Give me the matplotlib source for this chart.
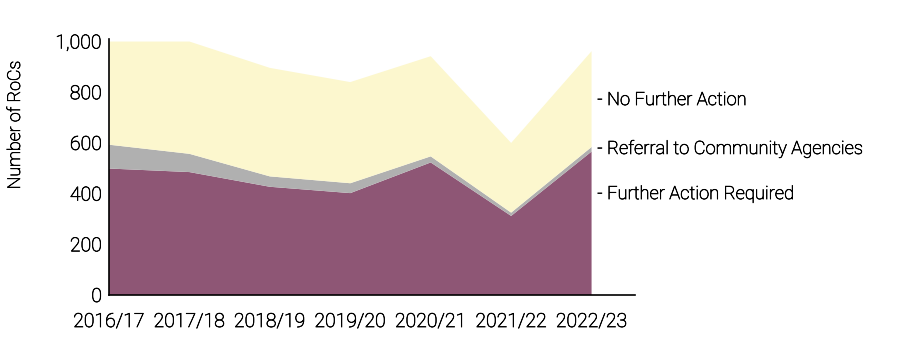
import numpy as np
import matplotlib.pyplot as plt
import matplotlib.patheffects as pe

plt.rcParams['font.family'] = ['Roboto', 'DejaVu Sans']

years = ["2016/17", "2017/18", "2018/19", "2019/20", "2020/21", "2021/22", "2022/23"]
further_action = [499, 485, 427, 402, 523, 312, 566]
referral = [94, 72, 41, 39, 24, 13, 18]
no_further = [407, 443, 428, 399, 395, 275, 378]

colors = ["#8e5675", "#b0b0b0", "#fcf7ce"]
labels = ["- Further Action Required", "- Referral to Community Agencies", "- No Further Action"]

# light font looks too faint, thicken it a little
bolder = [pe.withStroke(linewidth=0.45, foreground='black')]

fig = plt.figure(figsize=(9.06, 3.62), dpi=100)
ax = fig.add_axes([109/906, 1-295/362, 526/906, 256/362])

x = np.arange(len(years))
ax.stackplot(x, further_action, referral, no_further, colors=colors, linewidth=0)

ax.set_xlim(0, 6.54)
ax.set_ylim(0, 1010)
ax.set_xticks(x)
ax.set_xticklabels(years)
ax.set_yticks(range(0, 1001, 200))
ax.set_yticklabels([f"{v:,}" for v in range(0, 1001, 200)])
ax.tick_params(axis='both', length=0, labelsize=14, colors='black')
ax.tick_params(axis='x', pad=13)
ax.tick_params(axis='y', pad=5)
for t in ax.get_xticklabels() + ax.get_yticklabels():
    t.set_fontweight('light')
    t.set_path_effects(bolder)

for s in ['top', 'right']:
    ax.spines[s].set_visible(False)
for s in ['left', 'bottom']:
    ax.spines[s].set_color('black')
    ax.spines[s].set_linewidth(1.2)

# labels at right end of the stack
label_y = [398, 576, 769]
for ly, lab in zip(label_y, labels):
    ax.text(6.07, ly, lab, fontsize=13.2, fontweight='light', color='black',
            va='center', ha='left', clip_on=False, path_effects=bolder)

fig.text(15/906, 1-125/362, "Number of RoCs", rotation=90, ha='center', va='center',
         fontsize=12.8, fontweight='light', color='black', path_effects=bolder)

fig.savefig("out.png", dpi=100)
